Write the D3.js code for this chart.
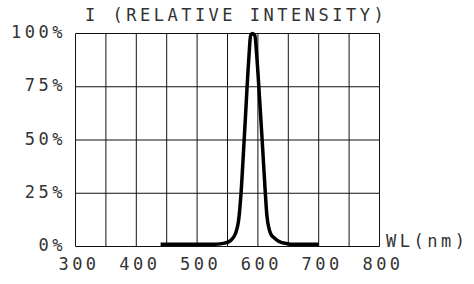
<!DOCTYPE html>
<html>
<head>
<meta charset="utf-8">
<script src="https://cdn.jsdelivr.net/npm/d3@7"></script>
<style>
	body { margin: 0; background: #fff; }
	svg text { font-family: 'DejaVu Sans Mono', monospace; font-size: 17px; fill: #333; letter-spacing: 3.5px; }
</style>
</head>
<body>
<svg id="chart" width="474" height="284"></svg>
<script>
// spectrum
const wavelength = [440, 500, 530, 545, 555, 563, 569, 572, 578, 585, 588, 591, 595, 598, 602, 607, 612, 615, 621, 627, 634, 648, 660, 700]
const intensity = [1, 1, 1.1, 1.6, 2.8, 6, 14, 24, 53, 88, 99, 100, 99, 90, 73, 50, 26, 14, 6, 4, 2.5, 1.3, 1, 1]

const xGrid = d3.range(300, 801, 50)
const xLabels = [300, 400, 500, 600, 700, 800]
const yTicks = [0, 25, 50, 75, 100]

const title = 'I (RELATIVE INTENSITY)'
const xTitle = 'WL(nm)'

const svg = d3.select('#chart')

const x = d3.scaleLinear().domain([300, 800]).range([75.5, 379.5])
const y = d3.scaleLinear().domain([0, 100]).range([246.5, 33.5])

// grid
svg.append('g')
	.selectAll('line')
	.data(xGrid)
	.join('line')
		.attr('x1', d => x(d)).attr('x2', d => x(d))
		.attr('y1', y(0)).attr('y2', y(100))
		.attr('stroke', '#111')
		.attr('stroke-width', 1)

svg.append('g')
	.selectAll('line')
	.data(yTicks)
	.join('line')
		.attr('x1', x(300)).attr('x2', x(800))
		.attr('y1', d => y(d)).attr('y2', d => y(d))
		.attr('stroke', '#111')
		.attr('stroke-width', 1)

// labels
svg.append('g')
	.selectAll('text')
	.data(yTicks)
	.join('text')
		.attr('x', 66)
		.attr('y', d => y(d) + 4.5)
		.attr('text-anchor', 'end')
		.text(d => `${d}%`)

svg.append('g')
	.selectAll('text')
	.data(xLabels)
	.join('text')
		.attr('x', d => x(d) + 3.5)
		.attr('y', 270)
		.attr('text-anchor', 'middle')
		.text(d => d)

svg.append('text')
	.attr('x', 85)
	.attr('y', 21)
	.text(title)

svg.append('text')
	.attr('x', 386)
	.attr('y', 247)
	.text(xTitle)

// curve
const line = d3.line()
	.x(d => x(d[0]))
	.y(d => y(d[1]))
	.curve(d3.curveMonotoneX)

svg.append('path')
	.datum(d3.zip(wavelength, intensity))
	.attr('d', line)
	.attr('fill', 'none')
	.attr('stroke', '#000')
	.attr('stroke-width', 3.5)
	.attr('stroke-linejoin', 'round')
</script>
</body>
</html>
